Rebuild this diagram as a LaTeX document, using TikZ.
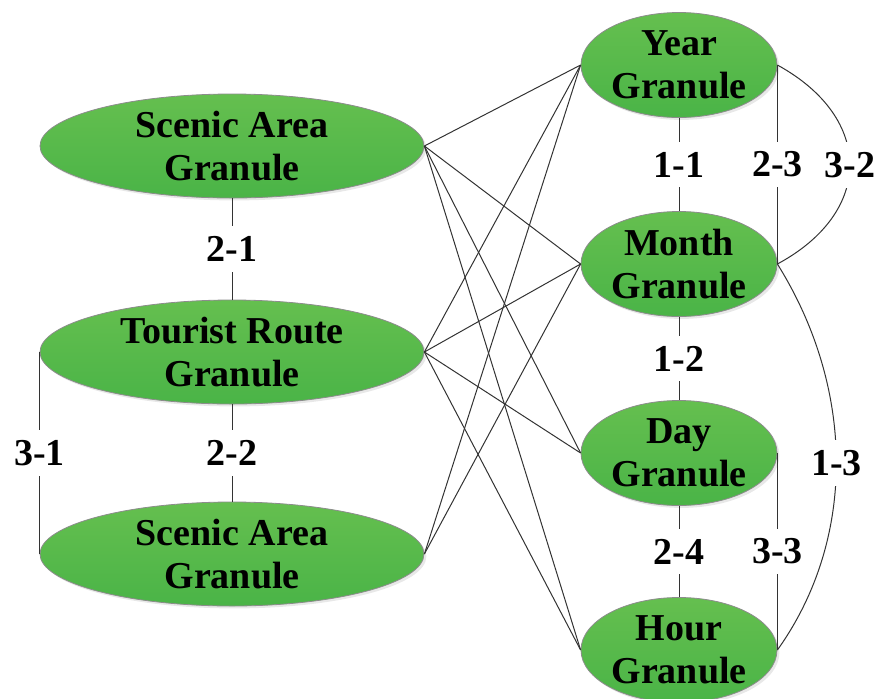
\documentclass[tikz,border=0pt]{standalone}
\usepackage{fontspec}
\setmainfont{Liberation Serif}
\definecolor{leaftop}{HTML}{65BF4F}
\definecolor{leafbot}{HTML}{4AB447}
\definecolor{rim}{gray}{0.55}
\definecolor{wire}{gray}{0.2}
\usepackage{tikz}
\usetikzlibrary{shapes.geometric, shadows}

\begin{document}
\begin{tikzpicture}[
  x=0.5pt, y=0.5pt,
  font=\fontsize{19}{21.5}\selectfont\bfseries,
  granule/.style={ellipse, inner sep=0pt, align=center, draw=rim, line width=0.4pt, top color=leaftop, bottom color=leafbot, drop shadow={shadow xshift=1.2pt, shadow yshift=-1.2pt, fill=black!18}},
  wide/.style={granule, minimum width=192pt, minimum height=52pt},
  narrow/.style={granule, minimum width=98pt, minimum height=52.5pt},
  link/.style={line width=0.5pt, draw=wire},
  tag/.style={fill=white, inner xsep=1pt, inner ysep=5pt}
]
  \useasboundingbox (0,0) rectangle (880,-698);

  % spatial granules
  \node[wide]   (s1) at (232,-146) {Scenic Area\\Granule};
  \node[wide]   (tr) at (232,-352) {Tourist Route\\Granule};
  \node[wide]   (s2) at (232,-554) {Scenic Area\\Granule};

  % temporal granules
  \node[narrow] (yr) at (679,-65)  {Year\\Granule};
  \node[narrow] (mo) at (679,-264) {Month\\Granule};
  \node[narrow] (dy) at (679,-453) {Day\\Granule};
  \node[narrow] (hr) at (679,-650) {Hour\\Granule};

  % cross links
  \draw[link] (s1.east) -- (yr.west);
  \draw[link] (s1.east) -- (mo.west);
  \draw[link] (s1.east) -- (dy.west);
  \draw[link] (s1.east) -- (hr.west);
  \draw[link] (tr.east) -- (yr.west);
  \draw[link] (tr.east) -- (mo.west);
  \draw[link] (tr.east) -- (dy.west);
  \draw[link] (tr.east) -- (hr.west);
  \draw[link] (s2.east) -- (yr.west);
  \draw[link] (s2.east) -- (mo.west);

  % left column
  \draw[link] (s1.south) -- node[tag] (l21) {2-1} (tr.north);
  \draw[link] (tr.south) -- node[tag] (l22) {2-2} (s2.north);
  \draw[link] (tr.west)  -- node[tag] (l31) {3-1} (s2.west);

  % right column
  \draw[link] (yr.south) -- node[tag] (l11) {1-1} (mo.north);
  \draw[link] (mo.south) -- node[tag] (l12) {1-2} (dy.north);
  \draw[link] (dy.south) -- node[tag] (l24) {2-4} (hr.north);
  \draw[link] (yr.east)  -- node[tag] (l23) {2-3} (mo.east);
  \draw[link] (dy.east)  -- node[tag] (l33) {3-3} (hr.east);
  \draw[link] (yr.east) .. controls (874,-118) and (874,-212) .. (mo.east) node[tag, pos=0.5] (l32) {3-2};
  \draw[link] (mo.east) .. controls (856,-390) and (856,-540) .. (hr.east) node[tag, pos=0.5] (l13) {1-3};
\end{tikzpicture}
\end{document}
